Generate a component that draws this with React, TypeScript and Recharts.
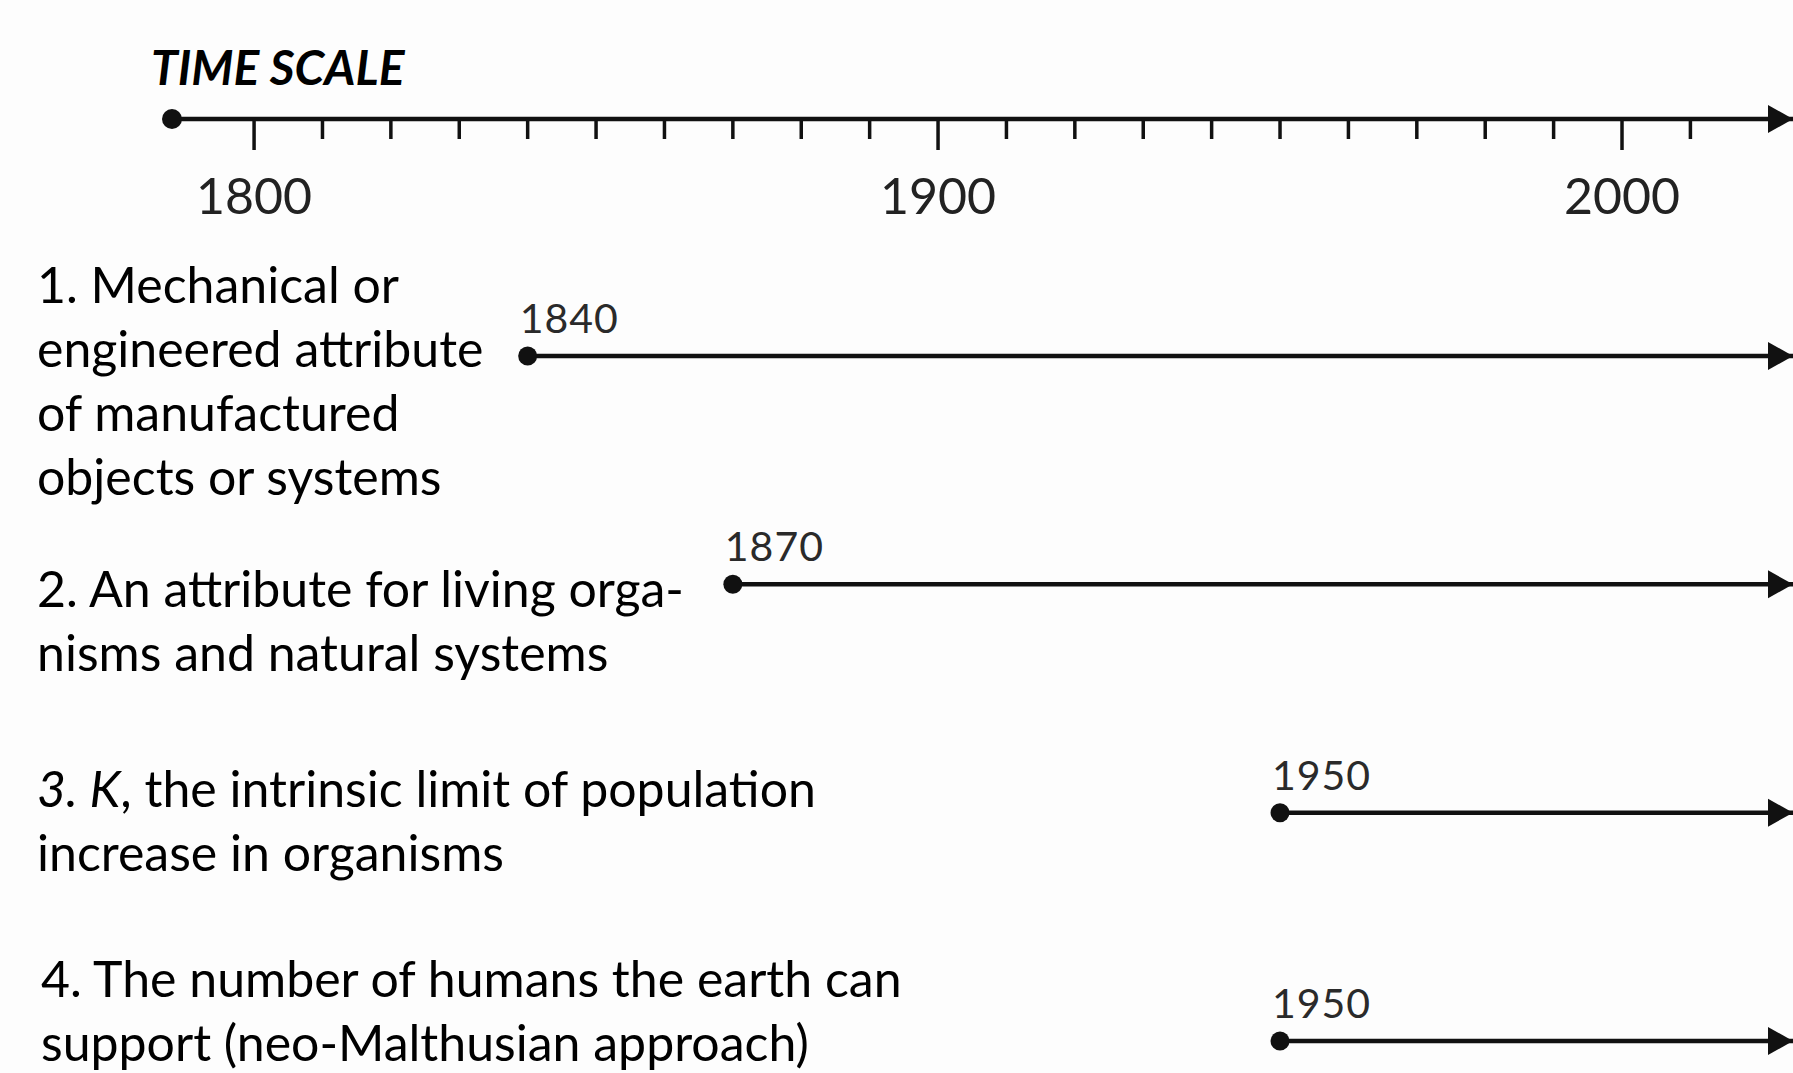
import { ComposedChart, Scatter, XAxis, YAxis } from "recharts";

// years shown on the time scale (dot on the left, arrow tip on the right)
const AXIS_START = 1788;
const AXIS_END = 2025;

const decadeTicks = [
  1800, 1810, 1820, 1830, 1840, 1850, 1860, 1870, 1880, 1890, 1900, 1910,
  1920, 1930, 1940, 1950, 1960, 1970, 1980, 1990, 2000, 2010,
];
const labelledYears = [1800, 1900, 2000];

// year each meaning of "carrying capacity" starts
const rowStarts = [1840, 1870, 1950, 1950];

// *...* marks italic text
const rowLabels = [
  ["1. Mechanical or", "engineered attribute", "of manufactured", "objects or systems"],
  ["2. An attribute for living orga-", "nisms and natural systems"],
  ["*3. K*, the intrinsic limit of population", "increase in organisms"],
  ["4. The number of humans the earth can", "support (neo-Malthusian approach)"],
];

const title = "TIME SCALE";

const W = 1793;
const H = 1073;
const INK = "#111";
const FONT = "Lato, 'Open Sans', sans-serif";

// where the first line of each label block sits, and its left edge
const labelBaseline = [303, 607, 807, 997];
const labelLeft = [37, 37, 37, 41];
const LINE_STEP = 64;

type Pt = { year: number; row: number; kind: "start" | "end" };

const rowData: Pt[][] = rowStarts.map((start, i) => [
  { year: start, row: i + 1, kind: "start" },
  { year: AXIS_END, row: i + 1, kind: "end" },
]);

const Arrowhead = ({ x, y }: { x: number; y: number }) => (
  <polygon points={`${x - 25},${y - 14} ${x},${y} ${x - 25},${y + 14}`} fill={INK} />
);

const TimeTick = (props: any) => {
  const { x, y, payload } = props;
  const v = payload.value;
  if (v === AXIS_START) return <circle cx={x} cy={y} r={10} fill={INK} />;
  if (v === AXIS_END) return <Arrowhead x={x} y={y} />;
  const major = labelledYears.includes(v);
  return (
    <g>
      <line x1={x} y1={y} x2={x} y2={y + (major ? 31 : 20)} stroke={INK} strokeWidth={3.5} />
      {major && (
        <text
          x={x}
          y={y + 95}
          textAnchor="middle"
          fontFamily={FONT}
          fontSize={50}
          fill="#222"
        >
          {v}
        </text>
      )}
    </g>
  );
};

const RowShape = (props: any) => {
  const { cx, cy, payload } = props;
  if (payload.kind === "end") return <Arrowhead x={cx} y={cy} />;
  return (
    <g>
      <circle cx={cx} cy={cy} r={9.5} fill={INK} />
      <text
        x={cx - 8}
        y={cy - 23}
        fontFamily={FONT}
        fontSize={41}
        letterSpacing={1}
        fill="#2a2a2a"
      >
        {payload.year}
      </text>
    </g>
  );
};

const renderLine = (line: string) =>
  line.split("*").map((part, k) =>
    k % 2 === 1 ? (
      <tspan key={k} fontStyle="italic">
        {part}
      </tspan>
    ) : (
      <tspan key={k}>{part}</tspan>
    )
  );

const App = () => {
  return (
    <div
      style={{
        position: "absolute",
        left: 0,
        top: 0,
        width: W,
        height: H,
        background: "#fdfdfd",
      }}
    >
      <ComposedChart
        width={W}
        height={H}
        margin={{ top: 119, right: 0, bottom: 0, left: 172 }}
      >
        <XAxis
          type="number"
          dataKey="year"
          orientation="top"
          mirror
          domain={[AXIS_START, AXIS_END]}
          ticks={[AXIS_START, ...decadeTicks, AXIS_END]}
          interval={0}
          axisLine={{ stroke: INK, strokeWidth: 4.5 }}
          tickLine={false}
          tickSize={0}
          tickMargin={0}
          tick={TimeTick}
        />
        <YAxis
          type="number"
          dataKey="row"
          domain={[1, rowStarts.length]}
          reversed
          hide
          padding={{ top: 237, bottom: 32 }}
        />
        {rowData.map((d, i) => (
          <Scatter
            key={i}
            data={d}
            line={{ stroke: INK, strokeWidth: 4.5 }}
            shape={RowShape}
            isAnimationActive={false}
          />
        ))}
      </ComposedChart>
      <svg
        width={W}
        height={H}
        style={{ position: "absolute", left: 0, top: 0, pointerEvents: "none" }}
      >
        <text
          x={151}
          y={85}
          fontFamily={FONT}
          fontSize={48}
          fontWeight={700}
          fontStyle="italic"
          fill="#000"
        >
          {title}
        </text>
        {rowLabels.map((lines, i) => (
          <text key={i} fontFamily={FONT} fontSize={50} fill="#000">
            {lines.map((line, j) => (
              <tspan key={j} x={labelLeft[i]} y={labelBaseline[i] + j * LINE_STEP}>
                {renderLine(line)}
              </tspan>
            ))}
          </text>
        ))}
      </svg>
    </div>
  );
};

export default App;
